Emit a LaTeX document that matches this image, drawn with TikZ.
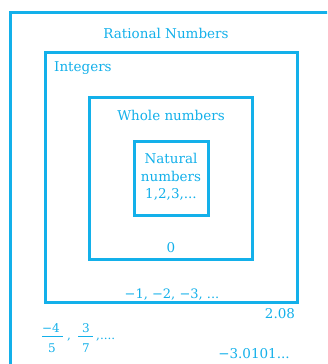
\documentclass[tikz,border=0pt]{standalone}
\usepackage{fontspec}
\setmainfont{DejaVu Serif}
\definecolor{cy}{HTML}{13B0EA}
\begin{document}
\begin{tikzpicture}[x=1pt,y=-1pt,
  box/.style={draw=cy,line width=3pt},
  lbl/.style={text=cy,font=\fontsize{13.5}{16}\selectfont,inner sep=0pt},
  fr/.style={text=cy,font=\fontsize{12}{14}\selectfont,inner sep=0pt},
  bar/.style={draw=cy,line width=0.9pt}]
\useasboundingbox (0,0) rectangle (327,364);
\begin{scope}
\clip (0,0) rectangle (327,364);
\draw[box] (10,12) rectangle (345,385);
\end{scope}
\draw[box] (45,52) rectangle (297,302);
\draw[box] (89,97) rectangle (252,259);
\draw[box] (134,141) rectangle (208,215);
\node[lbl] (rat) at (166,33) {Rational Numbers};
\node[lbl,anchor=west] (int) at (54,68) {Integers};
\node[lbl] (whole) at (171,115) {Whole numbers};
\node[lbl,align=center,font=\fontsize{13.5}{17.5}\selectfont] (nat) at (171,177) {Natural\\numbers\\1,2,3,...};
\node[lbl] (zero) at (171,248) {0};
\node[lbl,font=\fontsize{13}{16}\selectfont] (neg) at (172,295) {−1, −2, −3, ...};
\node[lbl] (two) at (280,314) {2.08};
% fractions
\node[fr] (n1) at (51,328) {−4};
\node[fr] (d1) at (52,348) {5};
\coordinate (b1l) at (42,336.5);
\coordinate (b1r) at (63,336.5);
\draw[bar] (b1l) -- (b1r);
\node[fr,anchor=base west] (c1) at (67,339) {,};
\node[fr] (n2) at (86,328) {3};
\node[fr] (d2) at (86,348) {7};
\coordinate (b2l) at (78,336.5);
\coordinate (b2r) at (93,336.5);
\draw[bar] (b2l) -- (b2r);
\node[fr,anchor=base west] (c2) at (96,339) {,....};
\node[lbl] (three) at (254,354) {−3.0101...};
\end{tikzpicture}
\end{document}
